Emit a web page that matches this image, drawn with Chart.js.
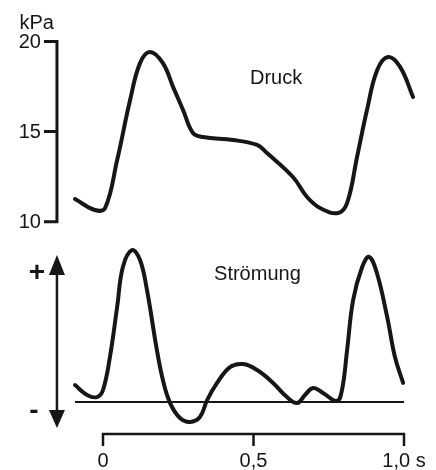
<!DOCTYPE html>
<html lang="de">
<head>
<meta charset="UTF-8">
<title>Druck und Strömung</title>
<script src="https://cdn.jsdelivr.net/npm/chart.js"></script>
<style>
  html, body { margin: 0; padding: 0; background: #fff; }
  #wrap { width: 436px; height: 470px; }
</style>
</head>
<body>
<div id="wrap"><canvas id="pulseChart" width="436" height="470"></canvas></div>
<script>
  // Druck (kPa) over time (s)
  const pressureTime = [-0.093, -0.027, 0.007, 0.047, 0.09, 0.123, 0.156, 0.199, 0.233, 0.266, 0.299, 0.332,
                        0.432, 0.512, 0.545, 0.631, 0.678, 0.721, 0.781, 0.811, 0.844, 0.877, 0.911, 0.947, 0.987, 1.03];
  const pressureKPa  = [11.26, 10.65, 10.76, 13.42, 16.75, 18.8, 19.42, 18.8, 17.47, 16.2, 14.92, 14.7,
                        14.53, 14.26, 13.81, 12.48, 11.37, 10.76, 10.48, 11.04, 13.59, 16.2, 18.42, 19.14, 18.59, 16.92];

  // Strömung (relative units, 0 = baseline)
  const flowTime  = [-0.093, -0.053, -0.02, 0, 0.023, 0.047, 0.066, 0.096, 0.123, 0.146, 0.179, 0.199, 0.223,
                     0.256, 0.289, 0.322, 0.346, 0.379, 0.422, 0.465, 0.512, 0.565, 0.611, 0.645, 0.671, 0.698,
                     0.731, 0.777, 0.794, 0.811, 0.831, 0.861, 0.884, 0.91, 0.944, 0.97, 0.997];
  const flowValue = [1.13, 0.47, 0.33, 0.8, 3.0, 6.33, 9.0, 10.13, 9.47, 7.47, 3.47, 1.47, -0.07,
                     -1.07, -1.33, -1.0, 0.13, 1.27, 2.33, 2.53, 2.13, 1.27, 0.33, -0.07, 0.47, 0.93,
                     0.6, 0.07, 0.8, 3.47, 6.8, 9.0, 9.67, 8.6, 5.67, 3.0, 1.27];

  const pressureTicks = [10, 15, 20];
  const timeTicks = [0, 0.5, 1.0];
  const timeTickLabels = ["0", "0,5", "1,0 s"];

  const ink = "#161616";
  const font = "20px 'Liberation Sans', Arial, sans-serif";

  // where the hand-drawn axes sit, in data units
  const AXIS_T = -0.153;      // time of the vertical axes
  const ARROW_TOP = 9.8;      // flow value of the arrow tips
  const ARROW_BOTTOM = -1.73;
  const TIME_AXIS_F = -2.13;  // flow value of the time axis line

  const customAxes = {
    id: "customAxes",
    afterDatasetsDraw(chart) {
      const { ctx } = chart;
      const { x, p, f } = chart.scales;
      ctx.save();
      ctx.strokeStyle = ink;
      ctx.fillStyle = ink;
      ctx.font = font;

      // pressure axis with ticks
      const ax = x.getPixelForValue(AXIS_T);
      const yTop = p.getPixelForValue(20);
      const yBot = p.getPixelForValue(10);
      ctx.lineWidth = 3;
      ctx.beginPath();
      ctx.moveTo(ax, yTop - 1.5);
      ctx.lineTo(ax, yBot + 1.5);
      pressureTicks.forEach(v => {
        const y = p.getPixelForValue(v);
        ctx.moveTo(ax - 13, y);
        ctx.lineTo(ax + 1.5, y);
      });
      ctx.stroke();
      ctx.textAlign = "right";
      ctx.textBaseline = "middle";
      pressureTicks.forEach(v => ctx.fillText(String(v), ax - 16, p.getPixelForValue(v) + 1));
      ctx.textBaseline = "alphabetic";
      ctx.fillText("kPa", ax - 3, yTop - 13);

      // flow arrow axis
      const aTop = f.getPixelForValue(ARROW_TOP);
      const aBot = f.getPixelForValue(ARROW_BOTTOM);
      ctx.lineWidth = 2.5;
      ctx.beginPath();
      ctx.moveTo(ax, aTop + 10);
      ctx.lineTo(ax, aBot - 10);
      ctx.stroke();
      ctx.beginPath();
      ctx.moveTo(ax, aTop);
      ctx.lineTo(ax - 8, aTop + 20);
      ctx.lineTo(ax + 8, aTop + 20);
      ctx.closePath();
      ctx.moveTo(ax, aBot);
      ctx.lineTo(ax - 8, aBot - 18);
      ctx.lineTo(ax + 8, aBot - 18);
      ctx.closePath();
      ctx.fill();
      ctx.font = "bold 28px 'Liberation Sans', Arial, sans-serif";
      ctx.textAlign = "center";
      ctx.textBaseline = "middle";
      ctx.fillText("+", ax - 20, aTop + 18);
      ctx.fillText("-", ax - 23, aBot - 17);

      // flow baseline
      const y0 = f.getPixelForValue(0);
      ctx.lineWidth = 2;
      ctx.beginPath();
      ctx.moveTo(x.getPixelForValue(flowTime[0]), y0);
      ctx.lineTo(x.getPixelForValue(1.0), y0);
      ctx.stroke();

      // time axis
      const ty = f.getPixelForValue(TIME_AXIS_F);
      ctx.lineWidth = 2.5;
      ctx.beginPath();
      ctx.moveTo(x.getPixelForValue(timeTicks[0]) - 1.2, ty);
      ctx.lineTo(x.getPixelForValue(timeTicks[timeTicks.length - 1]) + 1.2, ty);
      timeTicks.forEach(t => {
        const px = x.getPixelForValue(t);
        ctx.moveTo(px, ty);
        ctx.lineTo(px, ty + 12);
      });
      ctx.stroke();
      ctx.font = font;
      ctx.textAlign = "center";
      ctx.textBaseline = "middle";
      timeTicks.forEach((t, i) => ctx.fillText(timeTickLabels[i], x.getPixelForValue(t), ty + 28));

      // curve names
      ctx.fillText("Druck", x.getPixelForValue(0.575), p.getPixelForValue(17.97));
      ctx.fillText("Strömung", x.getPixelForValue(0.513), f.getPixelForValue(8.5));
      ctx.restore();
    }
  };

  const lineStyle = {
    borderColor: ink,
    borderWidth: 4,
    pointRadius: 0,
    fill: false,
    tension: 0.4,
    borderCapStyle: "round",
    borderJoinStyle: "round"
  };

  new Chart(document.getElementById("pulseChart"), {
    type: "line",
    data: {
      datasets: [
        { ...lineStyle, label: "Druck", yAxisID: "p",
          data: pressureTime.map((t, i) => ({ x: t, y: pressureKPa[i] })) },
        { ...lineStyle, label: "Strömung", yAxisID: "f",
          data: flowTime.map((t, i) => ({ x: t, y: flowValue[i] })) }
      ]
    },
    options: {
      responsive: false,
      animation: false,
      layout: { padding: 0 },
      plugins: { legend: { display: false }, tooltip: { enabled: false } },
      scales: {
        x: { type: "linear", display: false, min: -0.3422, max: 1.1063 },
        p: { type: "linear", display: false, min: -3.779, max: 22.303 },
        f: { type: "linear", display: false, min: -4.533, max: 26.8 }
      }
    },
    plugins: [customAxes]
  });
</script>
</body>
</html>
